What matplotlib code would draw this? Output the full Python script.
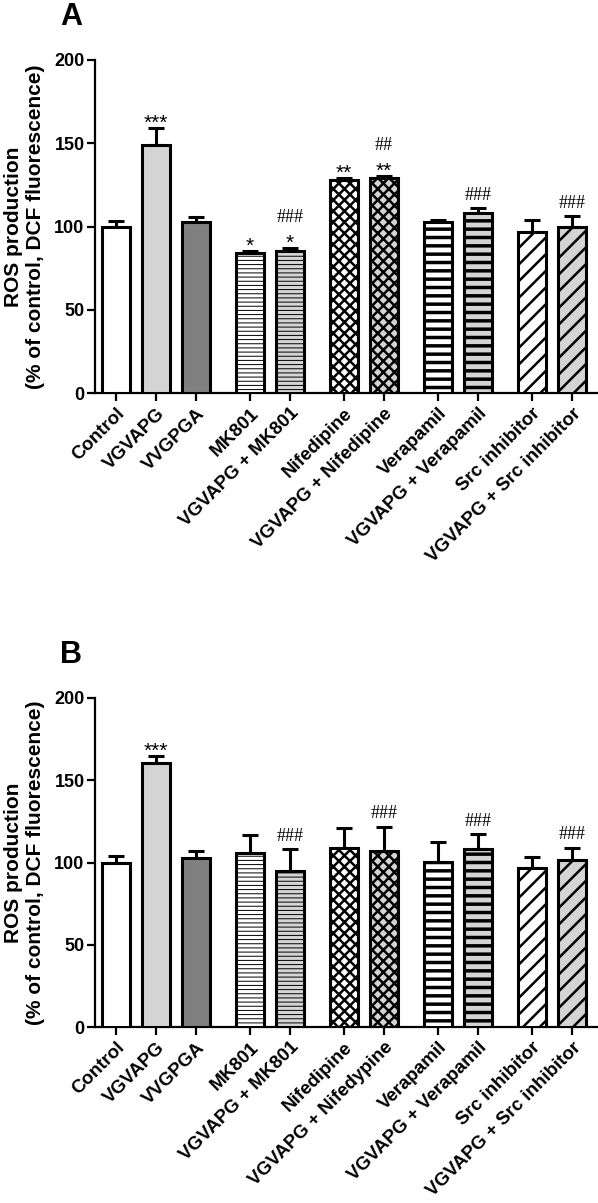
import matplotlib
matplotlib.use("Agg")
import matplotlib.pyplot as plt
import numpy as np

plt.rcParams['font.family'] = ['Liberation Sans', 'DejaVu Sans']

# ---- data -------------------------------------------------------------
labels_a = ["Control", "VGVAPG", "VVGPGA", "MK801", "VGVAPG + MK801",
            "Nifedipine", "VGVAPG + Nifedipine", "Verapamil",
            "VGVAPG + Verapamil", "Src inhibitor", "VGVAPG + Src inhibitor"]
labels_b = ["Control", "VGVAPG", "VVGPGA", "MK801", "VGVAPG + MK801",
            "Nifedipine", "VGVAPG + Nifedypine", "Verapamil",
            "VGVAPG + Verapamil", "Src inhibitor", "VGVAPG + Src inhibitor"]

means_a = [100.0, 148.8, 102.8, 84.0, 85.4, 127.8, 129.2, 102.8, 108.2, 96.4, 99.8]
sem_a = [3.5, 10.2, 2.8, 1.4, 1.6, 1.2, 1.2, 1.4, 3.0, 7.4, 6.4]

means_b = [100.0, 160.3, 103.0, 106.0, 94.8, 108.6, 107.2, 100.1, 108.0, 96.5, 101.5]
sem_b = [4.0, 4.4, 4.2, 10.5, 13.4, 12.2, 14.6, 12.2, 9.1, 7.0, 7.5]

# significance marks: (bar index, text)
marks_a = [(1, "***"), (3, "*"), (4, "*"), (4, "###"), (5, "**"),
           (6, "**"), (6, "##"), (8, "###"), (10, "###")]
marks_b = [(1, "***"), (4, "###"), (6, "###"), (8, "###"), (10, "###")]

group_sizes = [3, 2, 2, 2, 2]

# ---- styles -----------------------------------------------------------
LIGHT = "#d4d4d4"
DARK = "#808080"
fills = ["white", LIGHT, DARK, "white", LIGHT, "white", LIGHT,
         "white", LIGHT, "white", LIGHT]
hatches = [None, None, None, "----", "----", "xxx", "xxx", "--", "--", "//", "//"]
hatch_lw = [1.0, 1.0, 1.0, 0.7, 0.7, 1.8, 1.8, 2.5, 2.5, 1.8, 1.8]


def bar_positions(sizes, gap=0.35):
    pos = []
    x = 0.0
    for n in sizes:
        for _ in range(n):
            pos.append(x)
            x += 1.0
        x += gap
    return np.array(pos)


def draw_panel(ax, means, sems, labels, marks):
    x = bar_positions(group_sizes)
    n = len(means)

    ax.errorbar(x, means, yerr=[np.zeros(n), sems], fmt="none",
                ecolor="black", elinewidth=2.2, capsize=5.5, capthick=2.2,
                zorder=2)
    for i in range(n):
        with plt.rc_context({"hatch.linewidth": hatch_lw[i]}):
            bars = ax.bar(x[i], means[i], width=0.7, color=fills[i],
                          edgecolor="black", linewidth=2.2,
                          hatch=hatches[i], zorder=3)
        for p in bars:
            if hasattr(p, "set_hatch_linewidth"):
                p.set_hatch_linewidth(hatch_lw[i])

    # stacked annotations above the error bars
    base = {}
    level = {}
    for idx, txt in marks:
        top = means[idx] + sems[idx]
        k = level.get(idx, 0)
        star = txt.startswith("*")
        if k == 0:
            base[idx] = top + (-0.5 if star else 5.0)
        y = base[idx] + 16.0 * k
        level[idx] = k + 1
        if star:
            ax.text(x[idx], y, txt, ha="center", va="baseline",
                    fontsize=15, zorder=4)
        else:
            ax.text(x[idx], y, txt, ha="center", va="baseline",
                    fontsize=13, family=["Liberation Serif", "DejaVu Serif"],
                    zorder=4)

    ax.set_ylim(0, 200)
    ax.set_xlim(-0.525, 12.05)
    ax.set_yticks([0, 50, 100, 150, 200])
    ax.set_xticks(x)
    ax.set_xticklabels(labels, rotation=45, ha="right", va="top",
                       rotation_mode="anchor", fontweight="bold",
                       fontsize=13.5)
    for t in ax.get_yticklabels():
        t.set_fontweight("bold")
        t.set_fontsize(13)

    for side in ["top", "right"]:
        ax.spines[side].set_visible(False)
    for side in ["left", "bottom"]:
        ax.spines[side].set_linewidth(1.6)
    ax.tick_params(direction="out", length=5.5, width=1.6, pad=2)
    ax.tick_params(axis="x", length=5.5, pad=3)

    ax.set_ylabel("ROS production\n(% of control, DCF fluorescence)",
                  fontsize=15, fontweight="bold", linespacing=1.15)
    ax.yaxis.set_label_coords(-0.10, 0.5)


fig = plt.figure(figsize=(5.98, 12.03), dpi=100)
W, H = 598.0, 1203.0

ax_a = fig.add_axes([95 / W, 1 - 393 / H, 503 / W, 333 / H])
ax_b = fig.add_axes([95 / W, 1 - 1027 / H, 503 / W, 329 / H])

draw_panel(ax_a, means_a, sem_a, labels_a, marks_a)
draw_panel(ax_b, means_b, sem_b, labels_b, marks_b)

fig.text(60 / W, 1 - 25 / H, "A", fontsize=22, fontweight="bold",
         va="baseline", ha="left")
fig.text(60 / W, 1 - 663 / H, "B", fontsize=22, fontweight="bold",
         va="baseline", ha="left")

fig.savefig("out.png", dpi=100)
